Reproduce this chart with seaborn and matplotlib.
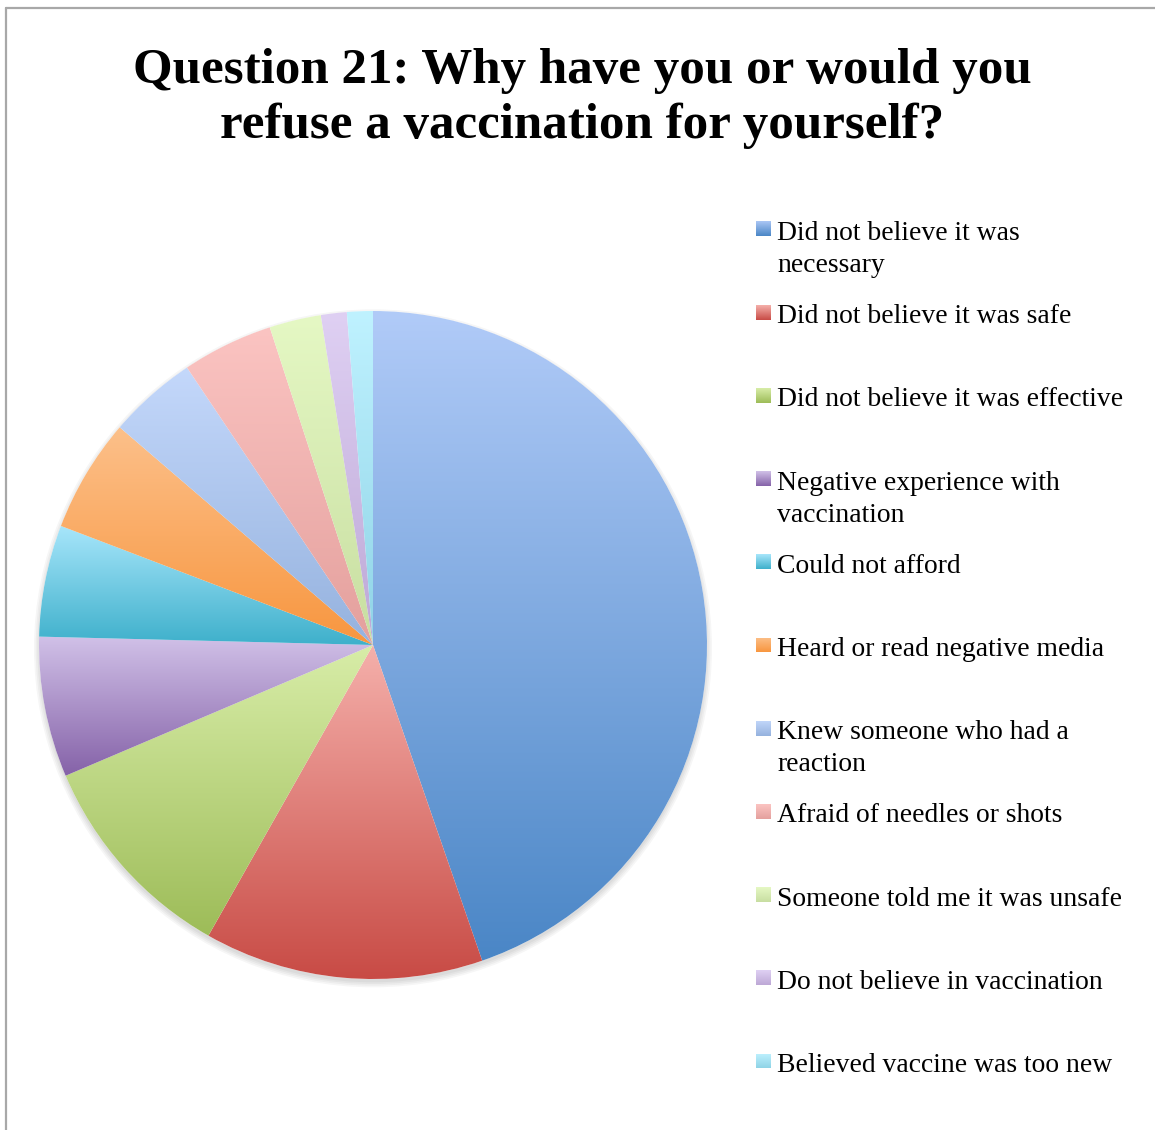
import numpy as np
import seaborn as sns
import matplotlib.pyplot as plt
from matplotlib.colors import to_rgb
from matplotlib.lines import Line2D
from matplotlib.patches import Circle

sns.set_style("white")
plt.rcParams['font.family'] = ['Liberation Serif', 'DejaVu Serif']
plt.rcParams['text.color'] = 'black'

# data (share of respondents)
labels = [
    "Did not believe it was\nnecessary",
    "Did not believe it was safe",
    "Did not believe it was effective",
    "Negative experience with\nvaccination",
    "Could not afford",
    "Heard or read negative media",
    "Knew someone who had a\nreaction",
    "Afraid of needles or shots",
    "Someone told me it was unsafe",
    "Do not believe in vaccination",
    "Believed vaccine was too new",
]
values = [44.7, 13.5, 10.4, 6.8, 5.4, 5.5, 4.3, 4.4, 2.5, 1.25, 1.25]

# gradient colours: light (top) -> dark (bottom)
top_colors = ["#b1cbf8", "#f5b0ab", "#d8eda8", "#d1c1e8", "#a8e6fb", "#fcc08a",
              "#c4d8fb", "#fbc4c2", "#e5f8c4", "#dfd0f3", "#bff2ff"]
bottom_colors = ["#4a86c6", "#c84b45", "#9dbc58", "#8562a8", "#3eb0cb", "#f8963f",
                 "#95b2de", "#e4a09d", "#c8dea1", "#bda8d6", "#8fd3e6"]

W, H = 1155, 1130
fig = plt.figure(figsize=(W / 100, H / 100), dpi=100)


def grad(c1, c2, n=256):
    a = np.array(to_rgb(c1))
    b = np.array(to_rgb(c2))
    t = np.linspace(0, 1, n)[:, None]
    return (a + (b - a) * t)[:, None, :]


# pie axes: center (373, 645), radius 334 px
cx, cy, r = 373, 645, 334
ax = fig.add_axes([(cx - r) / W, 1 - (cy + r) / H, 2 * r / W, 2 * r / H])

# soft shadow under the pie
for i in range(4):
    ax.add_patch(Circle((0, -0.01), 1.0 + 0.005 * i, color="#000000",
                        alpha=0.035, lw=0, zorder=0, clip_on=False))
ax.add_patch(Circle((0, 0), 1.0, color="white", lw=0, zorder=0.5, clip_on=False))

wedges, _ = ax.pie(values, startangle=90, counterclock=False, radius=1,
                   wedgeprops=dict(linewidth=0))
for w, c1, c2 in zip(wedges, top_colors, bottom_colors):
    w.set_facecolor("none")
    w.set_zorder(1)
    ext = w.get_path().get_extents()
    im = ax.imshow(grad(c1, c2), extent=[ext.x0, ext.x1, ext.y0, ext.y1],
                   origin="upper", aspect="auto", interpolation="bilinear", zorder=1)
    im.set_clip_path(w)

ax.set_xlim(-1, 1)
ax.set_ylim(-1, 1)
ax.set_aspect("equal")
ax.axis("off")

# title
fig.text(582 / W, 1 - 83 / H, "Question 21: Why have you or would you",
         ha="center", va="baseline", fontsize=36.7, fontweight="bold")
fig.text(582 / W, 1 - 138 / H, "refuse a vaccination for yourself?",
         ha="center", va="baseline", fontsize=36.7, fontweight="bold")

# legend
sq = 15
for k, (lab, c1, c2) in enumerate(zip(labels, top_colors, bottom_colors)):
    base = 240 + 83.2 * k
    mc = 229 + 83.2 * k
    lax = fig.add_axes([756 / W, 1 - (mc + sq / 2) / H, sq / W, sq / H])
    lax.imshow(grad(c1, c2), aspect="auto", interpolation="bilinear")
    lax.axis("off")
    for j, line in enumerate(lab.split("\n")):
        fig.text(777 / W, 1 - (base + 32 * j) / H, line, ha="left",
                 va="baseline", fontsize=19.9, color="black")

# frame lines (left and top)
fig.add_artist(Line2D([5.5 / W, 5.5 / W], [0, 1 - 8 / H], transform=fig.transFigure,
                      color="#a8a8a8", lw=1.6))
fig.add_artist(Line2D([5.5 / W, 1], [1 - 8 / H, 1 - 8 / H], transform=fig.transFigure,
                      color="#a8a8a8", lw=1.6))

fig.savefig("out.png", dpi=100)
